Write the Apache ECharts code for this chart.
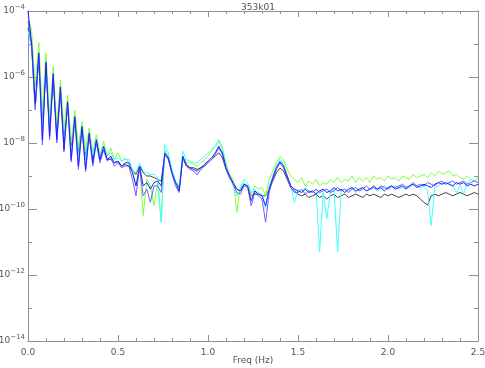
<!DOCTYPE html>
<html>
<head>
<meta charset="utf-8">
<script src="https://cdn.jsdelivr.net/npm/echarts@6/dist/echarts.min.js"></script>
<style>
  html, body { margin: 0; background: #fff; }
  #chart { width: 485px; height: 368px; }
</style>
</head>
<body>
<div id="chart"></div>
<script>
// power spectra, log10 values sampled every 0.02 Hz from 0 to 2.5 Hz
const freqStep = 0.02;

const greenLog = [
  -4.2, -4.58, -6.3, -4.95, -7.0, -5.27, -7.2, -5.69, -7.5, -6.09,
  -7.6, -6.55, -8.0, -7.0, -8.1, -7.35, -8.2, -7.55, -8.3, -7.75,
  -8.35, -7.95, -8.4, -8.15, -8.5, -8.3, -8.55, -8.45, -8.6, -8.8,
  -9.3, -8.7, -10.2, -9.1, -9.3, -9.9, -9.2, -10.4, -8.2, -8.4,
  -8.9, -9.2, -9.4, -8.4, -8.6, -8.6, -8.65, -8.7, -8.6, -8.5,
  -8.4, -8.25, -8.1, -7.9, -8.15, -8.6, -8.95, -9.1, -10.1, -9.3,
  -9.2, -9.3, -9.6, -9.3, -9.4, -9.35, -9.6, -9.1, -8.85, -8.6,
  -8.42, -8.5, -8.8, -9.0, -9.1, -9.2, -9.05, -9.3, -9.15, -9.25,
  -9.1, -9.3, -9.2, -9.25, -9.1, -9.2, -9.05, -9.2, -9.1, -9.15,
  -9.0, -9.2, -9.05, -9.15, -9.05, -9.2, -9.0, -9.1, -9.05, -9.15,
  -9.0, -9.1, -9.05, -9.15, -9.0, -9.05, -9.1, -8.95, -9.05, -9.0,
  -8.95, -9.05, -8.9, -9.0, -8.85, -8.95, -8.9, -8.85, -9.0, -8.95,
  -9.05, -9.1, -9.0, -9.1, -9.15, -9.05
];

const cyanLog = [
  -4.6, -5.1, -6.9, -5.4, -7.5, -5.7, -7.6, -6.05, -7.8, -6.45,
  -8.0, -6.85, -8.3, -7.25, -8.4, -7.5, -8.5, -7.7, -8.4, -7.9,
  -8.4, -8.1, -8.35, -8.3, -8.5, -8.45, -8.55, -8.5, -8.5, -8.8,
  -8.9, -8.6, -8.85, -8.9, -8.95, -8.95, -9.05, -10.4, -8.05, -8.3,
  -8.8, -9.15, -9.3, -8.25, -8.5, -8.55, -8.6, -8.6, -8.5, -8.4,
  -8.3, -8.2, -8.1, -7.95, -8.2, -8.7, -9.0, -9.3, -9.6, -9.4,
  -9.1, -9.2, -9.5, -9.4, -9.5, -9.55, -10.0, -9.3, -9.0, -8.7,
  -8.5, -8.65, -9.0, -9.3, -9.8, -9.4, -9.5, -9.35, -9.45, -9.5,
  -9.4, -11.3, -9.5, -10.3, -9.45, -9.4, -11.3, -9.45, -9.4, -9.45,
  -9.35, -9.5, -9.4, -9.35, -9.45, -9.4, -9.35, -9.45, -9.4, -9.3,
  -9.4, -9.35, -9.3, -9.4, -9.35, -9.3, -9.35, -9.25, -9.3, -9.35,
  -9.3, -9.45, -10.5, -9.35, -9.3, -9.2, -9.25, -9.2, -9.3, -9.5,
  -9.3, -9.55, -9.2, -9.1, -9.15, -9.05
];

const blueLog = [
  -4.0, -4.97, -6.8, -5.27, -7.9, -5.55, -7.8, -5.9, -7.9, -6.3,
  -8.2, -6.75, -8.5, -7.2, -8.7, -7.5, -8.8, -7.7, -8.6, -7.9,
  -8.5, -8.1, -8.5, -8.4, -8.6, -8.55, -8.7, -8.6, -8.6, -8.9,
  -9.3, -8.7, -9.3, -9.2, -9.4, -9.2, -9.15, -9.3, -8.3, -8.45,
  -8.9, -9.2, -9.45, -8.4, -8.65, -8.75, -8.8, -8.85, -8.75, -8.65,
  -8.55, -8.45, -8.3, -8.1, -8.3, -8.75, -9.0, -9.2, -9.4, -9.45,
  -9.25, -9.3, -9.75, -9.45, -9.55, -9.6, -9.9, -9.4, -9.05, -8.75,
  -8.57, -8.7, -9.0, -9.3, -9.4, -9.45, -9.5, -9.4, -9.5, -9.45,
  -9.55, -9.45, -9.4, -9.5, -9.45, -9.35, -9.45, -9.4, -9.5, -9.4,
  -9.35, -9.45, -9.4, -9.35, -9.45, -9.4, -9.3, -9.4, -9.35, -9.45,
  -9.35, -9.3, -9.4, -9.35, -9.3, -9.4, -9.3, -9.25, -9.35, -9.3,
  -9.25, -9.3, -9.35, -9.25, -9.2, -9.25, -9.2, -9.25, -9.3, -9.2,
  -9.25, -9.2, -9.3, -9.25, -9.3, -9.25
];

const purpleLog = [
  -4.3, -5.0, -7.0, -5.35, -8.06, -5.6, -7.9, -6.0, -8.0, -6.4,
  -8.27, -6.8, -8.57, -7.25, -8.8, -7.55, -8.87, -7.75, -8.7, -7.95,
  -8.6, -8.2, -8.55, -8.45, -8.7, -8.6, -8.75, -8.7, -8.7, -9.1,
  -9.6, -8.75, -9.6, -9.4, -9.8, -9.3, -9.3, -9.5, -8.35, -8.5,
  -8.95, -9.3, -9.5, -8.45, -8.7, -8.8, -8.85, -8.97, -8.8, -8.7,
  -8.6, -8.5, -8.35, -8.15, -8.35, -8.8, -9.05, -9.25, -9.5, -9.55,
  -9.3, -9.35, -9.9, -9.5, -9.6, -9.7, -10.4, -9.5, -9.1, -8.8,
  -8.6, -8.75, -9.05, -9.35, -9.5, -9.5, -9.4, -9.55, -9.45, -9.5,
  -9.4, -9.5, -9.45, -9.4, -9.5, -9.45, -9.35, -9.45, -9.4, -9.5,
  -9.4, -9.35, -9.45, -9.4, -9.3, -9.4, -9.35, -9.4, -9.3, -9.35,
  -9.4, -9.3, -9.35, -9.3, -9.25, -9.35, -9.3, -9.2, -9.3, -9.25,
  -9.3, -9.2, -9.25, -9.3, -9.2, -9.15, -9.25, -9.2, -9.15, -9.25,
  -9.2, -9.15, -9.25, -9.2, -9.15, -9.2
];

const blackLog = [
  -4.5, -5.1, -6.9, -5.45, -7.4, -5.75, -7.5, -6.1, -7.7, -6.5,
  -7.9, -6.9, -8.1, -7.3, -8.3, -7.6, -8.4, -7.8, -8.5, -8.0,
  -8.55, -8.2, -8.5, -8.5, -8.6, -8.55, -8.7, -8.65, -8.7, -8.85,
  -8.95, -8.7, -8.9, -9.0, -9.0, -9.05, -9.1, -9.15, -8.35, -8.5,
  -8.9, -9.2, -9.35, -8.45, -8.7, -8.75, -8.75, -8.8, -8.75, -8.7,
  -8.6, -8.5, -8.4, -8.3, -8.45, -8.8, -9.05, -9.25, -9.4, -9.45,
  -9.25, -9.3, -9.6, -9.55, -9.55, -9.6, -9.6, -9.4, -9.15, -8.9,
  -8.76, -8.85, -9.1, -9.35, -9.45, -9.55, -9.6, -9.55, -9.65, -9.6,
  -9.55, -9.65, -9.6, -9.7, -9.6, -9.55, -9.65, -9.6, -9.55, -9.65,
  -9.6, -9.55, -9.6, -9.65, -9.55, -9.6, -9.55, -9.6, -9.65, -9.55,
  -9.6, -9.55, -9.6, -9.65, -9.6, -9.55, -9.6, -9.55, -9.6, -9.7,
  -9.8, -9.88, -9.6, -9.55, -9.6, -9.55, -9.5, -9.55, -9.6, -9.55,
  -9.5, -9.55, -9.6, -9.55, -9.5, -9.55
];

const xTicks = [0.0, 0.5, 1.0, 1.5, 2.0, 2.5];
const yExponents = [-14, -12, -10, -8, -6, -4];

const seriesDefs = [
  { name: 'black', color: '#404040', data: blackLog },
  { name: 'green', color: '#80ff40', data: greenLog },
  { name: 'cyan', color: '#40ffff', data: cyanLog },
  { name: 'purple', color: '#7060ff', data: purpleLog },
  { name: 'blue', color: '#2020ff', data: blueLog },
];

const axisGrey = '#909090';
const textGrey = '#555';
const font = 'DejaVu Sans';

const chart = echarts.init(document.getElementById('chart'));

function xAxisBase(pos, showLabels) {
  return {
    type: 'value',
    position: pos,
    min: xTicks[0],
    max: xTicks[xTicks.length - 1],
    interval: 0.5,
    splitLine: { show: false },
    axisLine: { show: true, onZero: false, lineStyle: { color: axisGrey, width: 1 } },
    axisTick: { show: true, inside: true, length: 6, lineStyle: { color: axisGrey } },
    minorTick: { show: true, splitNumber: 5, length: 3, lineStyle: { color: axisGrey } },
    axisLabel: {
      show: showLabels, color: textGrey, fontSize: 9, fontFamily: font, margin: 7,
      formatter: v => v.toFixed(1)
    }
  };
}

function yAxisBase(pos, showLabels) {
  return {
    type: 'value',
    position: pos,
    min: yExponents[0],
    max: yExponents[yExponents.length - 1],
    interval: 2,
    splitLine: { show: false },
    axisLine: { show: true, onZero: false, lineStyle: { color: axisGrey, width: 1 } },
    axisTick: { show: true, inside: true, length: 9, lineStyle: { color: axisGrey } },
    minorTick: { show: true, splitNumber: 2, length: 4, lineStyle: { color: axisGrey } },
    axisLabel: {
      show: showLabels, margin: 3, color: textGrey, fontFamily: font,
      formatter: v => '{b|10}{s|' + (v < 0 ? '\u2212' : '') + Math.abs(v) + '}',
      rich: {
        b: { fontSize: 9, color: textGrey, fontFamily: font },
        s: { fontSize: 7, color: textGrey, fontFamily: font, padding: [0, 0, 7, 0] }
      }
    }
  };
}

chart.setOption({
  animation: false,
  backgroundColor: '#fff',
  title: {
    text: '353k01',
    left: 253,
    top: -2,
    textAlign: 'center',
    textStyle: { fontSize: 9, fontWeight: 'normal', color: textGrey, fontFamily: font }
  },
  grid: { left: 28, right: 7, top: 11, bottom: 27, outerBoundsMode: 'none', containLabel: false },
  xAxis: [
    Object.assign(xAxisBase('bottom', true), {
      name: 'Freq (Hz)', nameLocation: 'middle', nameGap: 15, nameMoveOverlap: false,
      nameTextStyle: { fontSize: 9, color: textGrey, fontFamily: font }
    }),
    xAxisBase('top', false)
  ],
  yAxis: [yAxisBase('left', true), yAxisBase('right', false)],
  series: seriesDefs.map(s => ({
    name: s.name,
    type: 'line',
    showSymbol: false,
    symbol: 'none',
    xAxisIndex: 0,
    yAxisIndex: 0,
    data: s.data.map((v, i) => [i * freqStep, v]),
    lineStyle: { color: s.color, width: 1 },
    itemStyle: { color: s.color }
  }))
});
</script>
</body>
</html>
